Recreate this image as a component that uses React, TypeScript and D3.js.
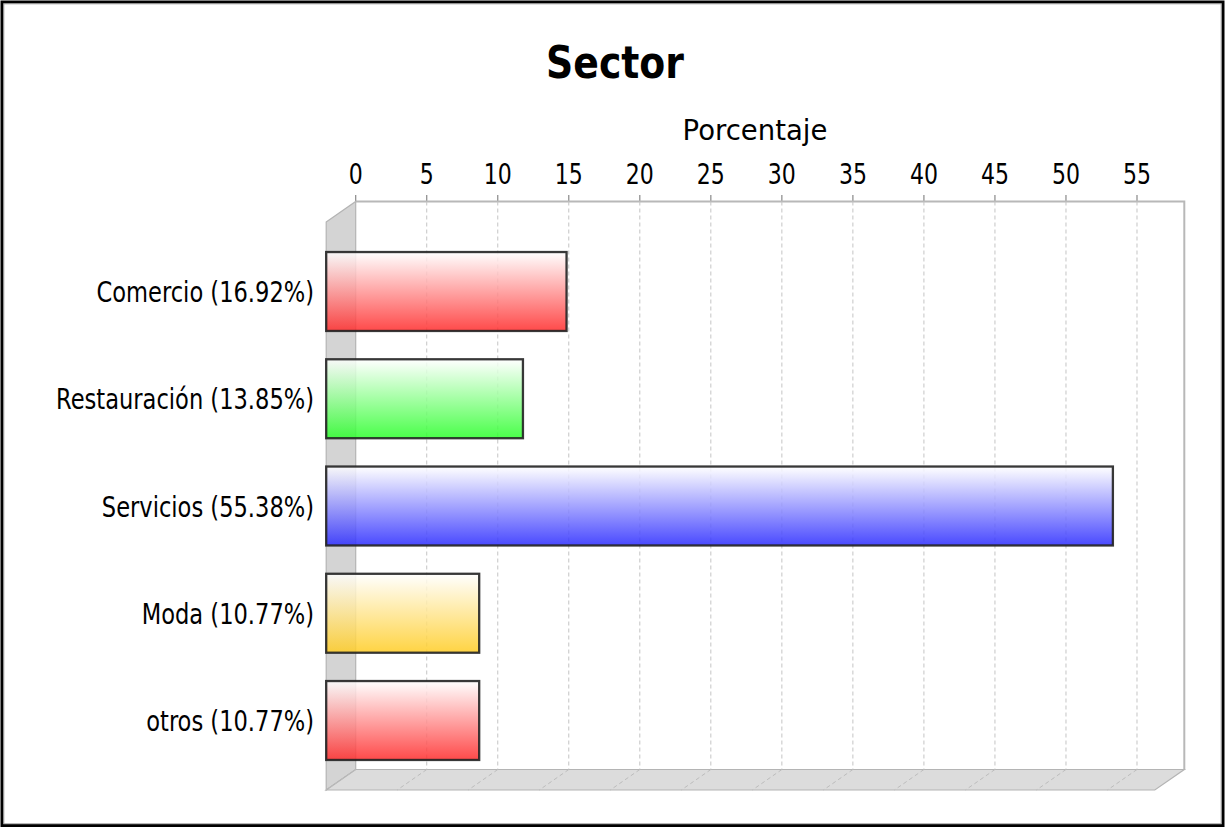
import React from "react";
import * as d3 from "d3";

const categories = ["Comercio (16.92%)", "Restauración (13.85%)", "Servicios (55.38%)", "Moda (10.77%)", "otros (10.77%)"];
const values = [16.92, 13.85, 55.38, 10.77, 10.77];
const barColors = ["#ff2a2a", "#2aff2a", "#2a2aff", "#ffcc22", "#ff2a2a"];
const tickValues = [0, 5, 10, 15, 20, 25, 30, 35, 40, 45, 50, 55];
const title = "Sector";
const axisLabel = "Porcentaje";

const W = 1225;
const H = 827;
const DX = 29.5;
const DY = 20.5;
const backLeft = 355.7;
const backRight = 1184.3;
const backTop = 201.5;
const backBottom = 769.5;

export default function App() {
  const x = d3.scaleLinear().domain([0, 58.33]).range([backLeft, backRight]);
  const y = d3
    .scaleBand<string>()
    .domain(categories)
    .range([backTop + DY, backBottom + DY])
    .paddingInner(0.264)
    .paddingOuter(0.28);

  const font = "'DejaVu Sans Condensed', 'DejaVu Sans', sans-serif";
  const frontLeft = backLeft - DX;
  const frontBottom = backBottom + DY;

  return (
    <svg width={W} height={H} style={{ position: "absolute", left: 0, top: 0, background: "#fff" }}>
      <defs>
        {barColors.map((c, i) => (
          <linearGradient key={i} id={`g${i}`} x1="0" y1="0" x2="0" y2="1">
            <stop offset="0" stopColor="#ffffff" />
            <stop offset="1" stopColor={c} />
          </linearGradient>
        ))}
      </defs>
      <rect x={0} y={0} width={W} height={H} fill="#fff" />
      <rect x={2} y={2} width={W - 4} height={H - 3.5} fill="none" stroke="#000" strokeWidth={3} />
      <rect x={3.8} y={3.8} width={W - 7.6} height={H - 7} fill="none" stroke="#9a9a9a" strokeWidth={1} />

      {/* Title */}
      <text
        transform={`translate(615,78) scale(1,1.05)`}
        textAnchor="middle"
        fontFamily={font}
        fontWeight="bold"
        fontSize={42}
        fill="#000"
      >
        {title}
      </text>
      <text
        transform={`translate(755,140)`}
        textAnchor="middle"
        fontFamily="'DejaVu Sans', sans-serif"
        fontSize={27.5}
        fill="#000"
      >
        {axisLabel}
      </text>

      {/* Tick labels & marks */}
      {tickValues.map((t) => (
        <g key={t}>
          <text
            transform={`translate(${x(t)},183.5) scale(1,1.16)`}
            textAnchor="middle"
            fontFamily={font}
            fontSize={24.5}
            fill="#000"
          >
            {t}
          </text>
          <line x1={x(t)} x2={x(t)} y1={195} y2={backTop} stroke="#888" strokeWidth={1.2} />
        </g>
      ))}

      {/* Left wall */}
      <polygon
        points={`${frontLeft},${backTop + DY} ${backLeft},${backTop} ${backLeft},${backBottom} ${frontLeft},${frontBottom}`}
        fill="#d4d4d4"
        stroke="#b4b4b4"
        strokeWidth={1.2}
      />
      {/* Floor */}
      <polygon
        points={`${frontLeft},${frontBottom} ${backLeft},${backBottom} ${backRight},${backBottom} ${backRight - DX},${frontBottom}`}
        fill="#dcdcdc"
        stroke="#b4b4b4"
        strokeWidth={1.2}
      />
      {/* Back wall outline */}
      <polyline
        points={`${backLeft},${backTop} ${backRight},${backTop} ${backRight},${backBottom}`}
        fill="none"
        stroke="#b8b8b8"
        strokeWidth={2}
      />

      {/* Gridlines */}
      {tickValues.map((t) => (
        <g key={"g" + t}>
          {t > 0 && (
            <line x1={x(t)} x2={x(t)} y1={backTop} y2={backBottom} stroke="#c4c4c4" strokeWidth={1} strokeDasharray="4,3" />
          )}
          <line
            x1={x(t)}
            y1={backBottom}
            x2={x(t) - DX}
            y2={frontBottom}
            stroke="#bcbcbc"
            strokeWidth={1}
            strokeDasharray="4,3"
          />
        </g>
      ))}

      {/* Bars */}
      {categories.map((c, i) => {
        const y0 = y(c) as number;
        const bw = y.bandwidth();
        const xr = x(values[i]) - DX;
        return (
          <g key={c}>
            <rect
              x={frontLeft}
              y={y0}
              width={xr - frontLeft}
              height={bw}
              fill={`url(#g${i})`}
              fillOpacity={0.85}
              stroke="#222"
              strokeWidth={2.3}
              strokeOpacity={0.9}
            />
            <text
              transform={`translate(314,${y0 + bw / 2 + 10.5}) scale(1,1.15)`}
              textAnchor="end"
              fontFamily={font}
              fontSize={25.1}
              fill="#000"
            >
              {c}
            </text>
          </g>
        );
      })}
    </svg>
  );
}
